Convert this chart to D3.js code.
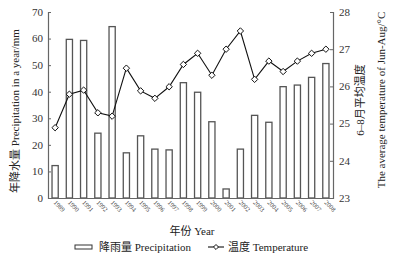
<!DOCTYPE html>
<html><head><meta charset="utf-8">
<script src="https://cdn.jsdelivr.net/npm/d3@7"></script>
<style>body{margin:0;background:#fff}svg{display:block}</style>
</head><body>
<svg id="c" width="395" height="265"></svg>
<script>
const years = ["1989","1990","1991","1992","1993","1994","1995","1996","1997","1998","1999","2000","2001","2002","2003","2004","2005","2006","2007","2008"];
const precipitation = [12.2,59.7,59.3,24.4,64.5,17.0,23.4,18.4,18.1,43.4,39.8,28.7,3.4,18.4,31.1,28.5,41.9,42.5,45.4,50.6];
const temperature = [24.89,25.79,25.9,25.29,25.2,26.49,25.88,25.68,25.99,26.59,26.89,26.3,27.0,27.49,26.19,26.68,26.4,26.68,26.89,27.0];
const leftTicks = [0,10,20,30,40,50,60,70];
const rightTicks = [23,24,25,26,27,28];

const svg = d3.select("#c");
const L = 48, R = 333, T = 12, B = 198;
const serif = "'Liberation Serif','Times New Roman',serif";
const cjk = "'Liberation Serif','Noto Sans CJK SC',serif";
const axisCol = "#666";

const x = d3.scaleBand().domain(years).range([L, R]).paddingInner(0).paddingOuter(0);
const cx = d => x(d) + x.bandwidth() / 2;
const yL = d3.scaleLinear().domain([0, 70]).range([B, T]);
const yR = d3.scaleLinear().domain([23, 28]).range([B, T]);
const bw = 6.2;

// bars
svg.append("g").selectAll("rect").data(years).join("rect")
  .attr("x", (d) => cx(d) - bw / 2)
  .attr("y", (d, i) => yL(precipitation[i]))
  .attr("width", bw)
  .attr("height", (d, i) => B - yL(precipitation[i]))
  .attr("fill", "#fff").attr("stroke", "#555").attr("stroke-width", 1.3);

// axes
const gL = svg.append("g").attr("transform", `translate(${L},0)`)
  .call(d3.axisRight(yL).tickValues(leftTicks).tickSize(3).tickFormat(d3.format("d")));
gL.selectAll("text").remove();
svg.append("g").selectAll("text").data(leftTicks).join("text")
  .attr("x", L - 5).attr("y", d => yL(d)).attr("dy", "0.35em")
  .attr("text-anchor", "end").attr("font-family", serif).attr("font-size", 11).attr("fill", "#333")
  .text(d => d);

const gR = svg.append("g").attr("transform", `translate(${R},0)`)
  .call(d3.axisLeft(yR).tickValues(rightTicks).tickSize(3));
gR.selectAll("text").remove();
svg.append("g").selectAll("text").data(rightTicks).join("text")
  .attr("x", R + 6).attr("y", d => yR(d)).attr("dy", "0.35em")
  .attr("text-anchor", "start").attr("font-family", serif).attr("font-size", 11).attr("fill", "#333")
  .text(d => d);

const gB = svg.append("g").attr("transform", `translate(0,${B})`)
  .call(d3.axisBottom(x).tickSize(0).tickFormat(""));
[gL, gR, gB].forEach(g => {
  g.select(".domain").attr("stroke", axisCol).attr("stroke-width", 1.2);
  g.selectAll(".tick line").attr("stroke", axisCol);
});

// x labels
svg.append("g").selectAll("text").data(years).join("text")
  .attr("transform", d => `translate(${cx(d) - 2},${B + 5}) rotate(45)`)
  .attr("text-anchor", "start").attr("font-family", serif).attr("font-size", 6.5).attr("fill", "#444")
  .text(d => d);

// line
const line = d3.line().x((d, i) => cx(years[i])).y(d => yR(d));
svg.append("path").datum(temperature).attr("d", line)
  .attr("fill", "none").attr("stroke", "#111").attr("stroke-width", 1.1);
const diamond = d3.symbol().type(d3.symbolDiamond2).size(26);
svg.append("g").selectAll("path").data(temperature).join("path")
  .attr("transform", (d, i) => `translate(${cx(years[i])},${yR(d)}) rotate(0)`)
  .attr("d", diamond).attr("fill", "#fff").attr("stroke", "#111").attr("stroke-width", 1);

// titles
svg.append("text").attr("transform", `translate(19,${(T + B) / 2 + 6}) rotate(-90)`)
  .attr("text-anchor", "middle").attr("font-family", cjk).attr("font-size", 11).attr("fill", "#222")
  .text("年降水量 Precipitation in a year/mm");
svg.append("text").attr("transform", `translate(364,100) rotate(-90)`)
  .attr("text-anchor", "middle").attr("font-family", cjk).attr("font-size", 11).attr("fill", "#222")
  .text("6–8月平均温度");
svg.append("text").attr("transform", `translate(385,100) rotate(-90)`)
  .attr("text-anchor", "middle").attr("font-family", serif).attr("font-size", 11).attr("fill", "#222")
  .text("The average temperature of Jun-Aug/°C");
svg.append("text").attr("x", 192).attr("y", 235)
  .attr("text-anchor", "middle").attr("font-family", cjk).attr("font-size", 11).attr("fill", "#222")
  .text("年份 Year");

// legend
const lg = svg.append("g");
lg.append("rect").attr("x", 75).attr("y", 245).attr("width", 17).attr("height", 4)
  .attr("fill", "#fff").attr("stroke", "#333").attr("stroke-width", 1);
lg.append("text").attr("x", 99).attr("y", 251).attr("font-family", cjk).attr("font-size", 11).attr("fill", "#222")
  .text("降雨量 Precipitation");
lg.append("line").attr("x1", 208).attr("x2", 224).attr("y1", 247).attr("y2", 247).attr("stroke", "#111").attr("stroke-width", 1.1);
lg.append("path").attr("transform", "translate(216,247)").attr("d", d3.symbol().type(d3.symbolDiamond2).size(16))
  .attr("fill", "#fff").attr("stroke", "#111");
lg.append("text").attr("x", 228).attr("y", 251).attr("font-family", cjk).attr("font-size", 11).attr("fill", "#222")
  .text("温度 Temperature");
</script>
</body></html>
